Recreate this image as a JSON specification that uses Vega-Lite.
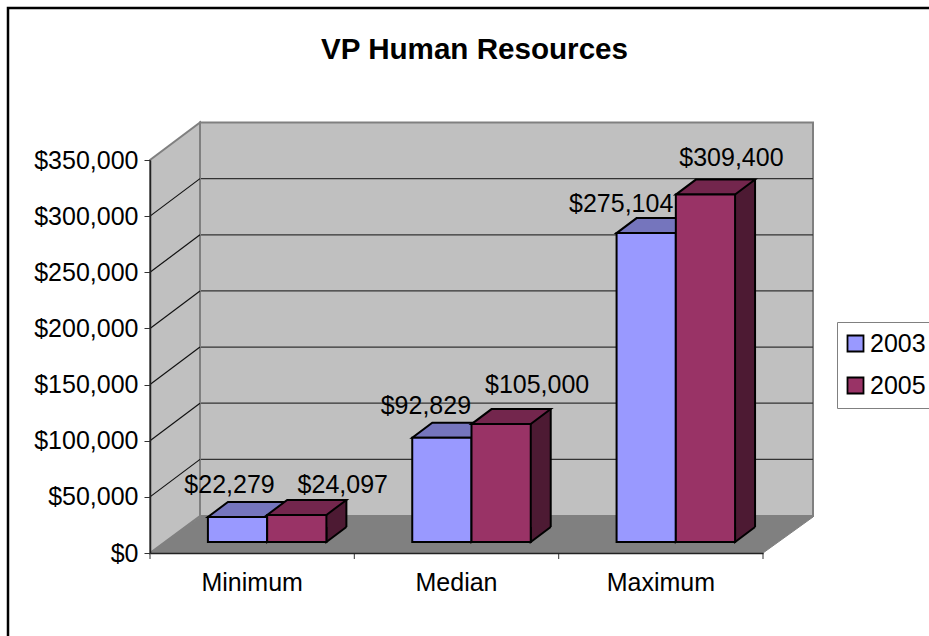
{
"$schema":"https://vega.github.io/schema/vega-lite/v6.json",
"width":613,"height":393,"autosize":"none",
"padding":{"left":150,"top":160,"right":166,"bottom":83},
"background":"white",
"title":{"text":"VP Human Resources","font":"Liberation Sans","fontSize":29.6,"fontWeight":"bold","color":"#000","anchor":"middle","frame":"group","dx":18,"offset":-63},
"config":{"font":"Liberation Sans","view":{"stroke":null}},
"resolve":{"scale":{"xOffset":"independent"}},
"datasets":{
"bars":[
{"category":"Minimum","series":"2003","value":22279},
{"category":"Minimum","series":"2005","value":24097},
{"category":"Median","series":"2003","value":92829},
{"category":"Median","series":"2005","value":105000},
{"category":"Maximum","series":"2003","value":275104},
{"category":"Maximum","series":"2005","value":309400}],
"grid":[{"tick":50000},{"tick":100000},{"tick":150000},{"tick":200000},{"tick":250000},{"tick":300000}],
"base":[{"tick":0}]
},
"data":{"name":"bars"},
"layer":[
{"data":{"name":"base"},"mark":{"type":"point","filled":true,"size":4,"opacity":1,"fill":"#C0C0C0","stroke":"#808080","strokeWidth":2,"shape":"M-256.5 -37L356.5 -37L356.5 -430.5L-256.5 -430.5Z"},
 "encoding":{"y":{"field":"tick","type":"quantitative","title":null,"scale":{"domain":[0,350000],"nice":false}}}},
{"data":{"name":"grid"},"mark":{"type":"rule","stroke":"#333333","strokeWidth":1.2,"xOffset":50,"x2Offset":50,"yOffset":-37.5},
 "encoding":{"y":{"field":"tick","type":"quantitative","title":null}}},
{"data":{"name":"base"},"mark":{"type":"point","filled":true,"size":4,"opacity":1,"fill":"#C0C0C0","stroke":"#808080","strokeWidth":2,"shape":"M-306.5 0L-256.5 -37L-256.5 -430.5L-306.5 -393Z"},
 "encoding":{"y":{"field":"tick","type":"quantitative","title":null}}},
{"data":{"name":"grid"},"mark":{"type":"point","filled":false,"size":4,"opacity":1,"stroke":"#111111","strokeWidth":1.2,"shape":"M-306.5 0L-256.5 -37.5"},
 "encoding":{"y":{"field":"tick","type":"quantitative","title":null}}},
{"data":{"name":"base"},"mark":{"type":"point","filled":true,"size":4,"opacity":1,"fill":"#808080","stroke":"#808080","strokeWidth":1,"shape":"M-306.5 0L306.5 0L356.5 -36L-256.5 -36Z"},
 "encoding":{"y":{"field":"tick","type":"quantitative","title":null}}},
{"data":{"name":"base"},"mark":{"type":"point","filled":false,"size":4,"opacity":1,"stroke":"#333","strokeWidth":1,"shape":"M-306.5 0L-306.5 6M-102.2 0L-102.2 6M102.2 0L102.2 6M306.5 0L306.5 6"},
 "encoding":{"y":{"field":"tick","type":"quantitative","title":null}}},
{"mark":{"type":"bar","yOffset":-26,"strokeWidth":0},
 "encoding":{
  "x":{"field":"category","type":"nominal","sort":["Minimum","Median","Maximum"],"title":null,"scale":{"paddingInner":0.42,"paddingOuter":0.21}},
  "xOffset":{"field":"series","type":"nominal","scale":{"domain":["2003","2005"],"paddingInner":0,"range":[35,153.5]}},
  "y":{"field":"value","type":"quantitative","title":null},
  "fill":{"condition":{"test":"datum.series==='2003'","value":"#4D4D80"},"value":"#4D1A33"}}},
{"mark":{"type":"point","filled":true,"size":4,"opacity":1,"stroke":"#000","strokeWidth":2,"shape":"M64.6 -26L44.6 -11L44.6 -26"},
 "encoding":{
  "x":{"field":"category","type":"nominal","sort":["Minimum","Median","Maximum"],"title":null},
  "xOffset":{"field":"series","type":"nominal","scale":{"domain":["2003","2005"],"paddingInner":0,"range":[0,118.5]}},
  "y":{"datum":0,"type":"quantitative","title":null},
  "fill":{"condition":{"test":"datum.series==='2003'","value":"#4D4D80"},"value":"#4D1A33"}}},
{"mark":{"type":"rule","stroke":"#000","strokeWidth":2,"yOffset":-26,"y2Offset":-26},
 "encoding":{
  "x":{"field":"category","type":"nominal","sort":["Minimum","Median","Maximum"],"title":null},
  "xOffset":{"field":"series","type":"nominal","scale":{"domain":["2003","2005"],"paddingInner":0,"range":[64.6,183.1]}},
  "y":{"field":"value","type":"quantitative","title":null},
  "y2":{"datum":0}}},
{"mark":{"type":"point","filled":true,"size":4,"opacity":1,"stroke":"#000","strokeWidth":2,"shape":"M-14.6 -11L44.6 -11L64.6 -26L5.4 -26Z"},
 "encoding":{
  "x":{"field":"category","type":"nominal","sort":["Minimum","Median","Maximum"],"title":null},
  "xOffset":{"field":"series","type":"nominal","scale":{"domain":["2003","2005"],"paddingInner":0,"range":[0,118.5]}},
  "y":{"field":"value","type":"quantitative","title":null},
  "fill":{"condition":{"test":"datum.series==='2003'","value":"#7575BD"},"value":"#73264D"}}},
{"mark":{"type":"bar","yOffset":-11,"stroke":"#000","strokeWidth":2},
 "encoding":{
  "x":{"field":"category","type":"nominal","sort":["Minimum","Median","Maximum"],"title":null,
   "axis":{"title":null,"labelAngle":0,"labelAlign":"center","labelFontSize":25,"labelColor":"#000","labelPadding":29,"ticks":false,"domainColor":"#222","domainWidth":1.5,"zindex":1,"labelFont":"Liberation Sans"}},
  "xOffset":{"field":"series","type":"nominal","scale":{"domain":["2003","2005"],"paddingInner":0,"range":[15,133.5]}},
  "y":{"field":"value","type":"quantitative","title":null,
   "axis":{"title":null,"values":[0,50000,100000,150000,200000,250000,300000,350000],"format":"$,.0f","grid":false,"labelFontSize":25,"labelColor":"#000","labelPadding":6,"tickSize":6,"tickColor":"#333","domainColor":"#222","domainWidth":1.5,"zindex":1,"labelFont":"Liberation Sans"}},
  "fill":{"field":"series","type":"nominal","scale":{"domain":["2003","2005"],"range":["#9999FF","#993366"]},
   "legend":{"title":null,"orient":"none","legendX":687,"legendY":162,"symbolType":"square","symbolSize":256,"symbolStrokeColor":"#000","symbolStrokeWidth":1.8,"labelFontSize":25,"labelColor":"#000","labelOffset":2,"symbolOffset":-3,"strokeColor":"#808080","fillColor":"white","padding":9,"rowPadding":16,"labelFont":"Liberation Sans"}}}},
{"transform":[{"filter":"datum.category==='Minimum' && datum.series==='2003'"}],"mark":{"type":"text","fontSize":25,"color":"#000","dx":7,"dy":-43},
 "encoding":{"x":{"field":"category","type":"nominal","sort":["Minimum","Median","Maximum"],"title":null},"xOffset":{"field":"series","type":"nominal","scale":{"domain":["2003","2005"],"paddingInner":0,"range":[0,118.5]}},"y":{"field":"value","type":"quantitative","title":null},"text":{"field":"value","type":"quantitative","format":"$,.0f"}}},
{"transform":[{"filter":"datum.category==='Minimum' && datum.series==='2005'"}],"mark":{"type":"text","fontSize":25,"color":"#000","dx":61,"dy":-41},
 "encoding":{"x":{"field":"category","type":"nominal","sort":["Minimum","Median","Maximum"],"title":null},"xOffset":{"field":"series","type":"nominal","scale":{"domain":["2003","2005"],"paddingInner":0,"range":[0,118.5]}},"y":{"field":"value","type":"quantitative","title":null},"text":{"field":"value","type":"quantitative","format":"$,.0f"}}},
{"transform":[{"filter":"datum.category==='Median' && datum.series==='2003'"}],"mark":{"type":"text","fontSize":25,"color":"#000","dx":-1,"dy":-43},
 "encoding":{"x":{"field":"category","type":"nominal","sort":["Minimum","Median","Maximum"],"title":null},"xOffset":{"field":"series","type":"nominal","scale":{"domain":["2003","2005"],"paddingInner":0,"range":[0,118.5]}},"y":{"field":"value","type":"quantitative","title":null},"text":{"field":"value","type":"quantitative","format":"$,.0f"}}},
{"transform":[{"filter":"datum.category==='Median' && datum.series==='2005'"}],"mark":{"type":"text","fontSize":25,"color":"#000","dx":51,"dy":-50},
 "encoding":{"x":{"field":"category","type":"nominal","sort":["Minimum","Median","Maximum"],"title":null},"xOffset":{"field":"series","type":"nominal","scale":{"domain":["2003","2005"],"paddingInner":0,"range":[0,118.5]}},"y":{"field":"value","type":"quantitative","title":null},"text":{"field":"value","type":"quantitative","format":"$,.0f"}}},
{"transform":[{"filter":"datum.category==='Maximum' && datum.series==='2003'"}],"mark":{"type":"text","fontSize":25,"color":"#000","dx":-10,"dy":-40},
 "encoding":{"x":{"field":"category","type":"nominal","sort":["Minimum","Median","Maximum"],"title":null},"xOffset":{"field":"series","type":"nominal","scale":{"domain":["2003","2005"],"paddingInner":0,"range":[0,118.5]}},"y":{"field":"value","type":"quantitative","title":null},"text":{"field":"value","type":"quantitative","format":"$,.0f"}}},
{"transform":[{"filter":"datum.category==='Maximum' && datum.series==='2005'"}],"mark":{"type":"text","fontSize":25,"color":"#000","dx":41,"dy":-48},
 "encoding":{"x":{"field":"category","type":"nominal","sort":["Minimum","Median","Maximum"],"title":null},"xOffset":{"field":"series","type":"nominal","scale":{"domain":["2003","2005"],"paddingInner":0,"range":[0,118.5]}},"y":{"field":"value","type":"quantitative","title":null},"text":{"field":"value","type":"quantitative","format":"$,.0f"}}},
{"data":{"name":"base"},"mark":{"type":"point","filled":false,"size":4,"opacity":1,"stroke":"#000","strokeWidth":2.5,"shape":"M-448.5 90L-448.5 -545L480 -545"},
 "encoding":{"y":{"field":"tick","type":"quantitative","title":null}}}
]
}
